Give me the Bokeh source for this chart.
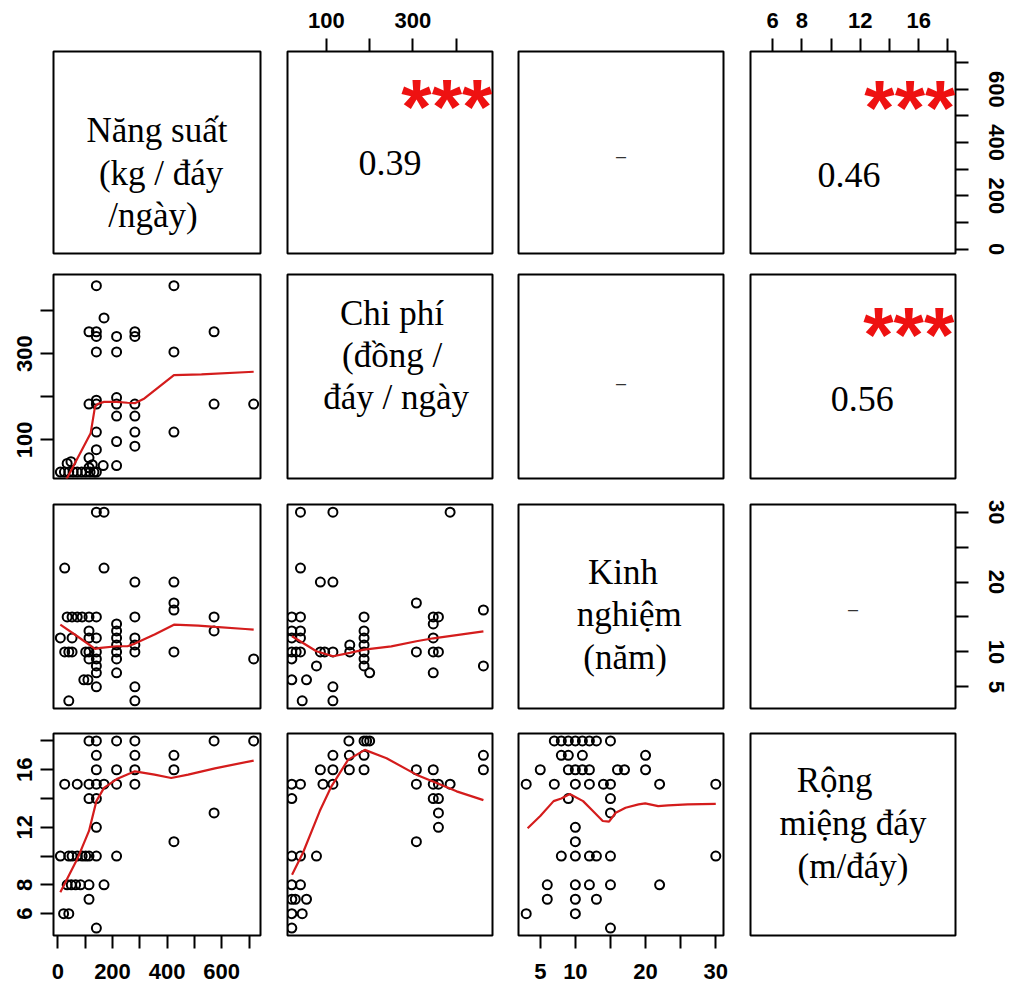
from bokeh.plotting import figure
from bokeh.layouts import column, row
from bokeh.models import FixedTicker, LinearAxis, Range1d
from bokeh.core.properties import value
from bokeh.embed import file_html
from bokeh.resources import INLINE

# ---------------- data ----------------
VARS = ["ns", "cp", "kn", "rm"]
LABELS = {
    "ns": ["Năng suất", "(kg / đáy", "/ngày)"],
    "cp": ["Chi phí", "(đồng /", "đáy / ngày"],
    "kn": ["Kinh", "nghiệm", "(năm)"],
    "rm": ["Rộng", "miệng đáy", "(m/đáy)"],
}
RANGES = {"ns": (-16, 742), "cp": (10, 484), "kn": (1.9, 31.1), "rm": (4.48, 18.52)}
TICKS = {"ns": [0, 100, 200, 300, 400, 500, 600, 700],
         "cp": [100, 200, 300, 400],
         "kn": [5, 10, 15, 20, 25, 30],
         "rm": [6, 8, 10, 12, 14, 16, 18]}
TICK_LABELS = {"ns": [0, 200, 400, 600], "cp": [100, 300], "kn": [5, 10, 20, 30], "rm": [6, 8, 12, 16]}

# Chi phí (y) vs Năng suất (x)
ns_cp_x = [141, 425, 169, 114, 141, 141, 215, 282, 282, 572, 141, 215, 425, 114, 141, 141, 215, 215, 282,
           572, 717, 215, 282, 141, 282, 425, 215, 282, 141, 114, 166, 215, 9, 24, 40, 56, 71, 87, 102,
           118, 132, 141, 34, 48, 114, 126]
ns_cp_y = [458, 458, 383, 351, 351, 340, 340, 351, 340, 351, 304, 304, 304, 183, 192, 183, 198, 183, 183,
           183, 183, 155, 155, 118, 118, 118, 96, 85, 77, 58, 40, 40, 25, 25, 25, 25, 25, 25, 25,
           25, 25, 25, 45, 49, 35, 42]
ns_cp_fit_x = [28, 120, 136, 145, 169, 215, 255, 282, 317, 425, 526, 717]
ns_cp_fit_y = [4, 115, 177, 183, 188, 188, 186, 185, 196, 250, 252, 258]

# Kinh nghiệm (y) vs Năng suất (x)
ns_kn_x = [141, 169, 25, 169, 282, 425, 425, 425, 572, 282, 34, 52, 71, 89, 114, 141, 215, 215, 215, 215,
           215, 215, 215, 572, 114, 9, 52, 114, 141, 282, 282, 282, 425, 25, 40, 52, 102, 114, 141,
           114, 141, 717, 141, 141, 95, 110, 141, 282, 40, 282]
ns_kn_y = [30, 30, 22, 22, 20, 20, 17, 16, 15, 15, 15, 15, 15, 15, 15, 15, 14, 13, 12, 11,
           10, 9, 7, 13, 13, 12, 12, 12, 12, 12, 11, 10, 10, 10, 10, 10, 10, 10, 10,
           9, 9, 9, 8, 7, 6, 6, 5, 5, 3, 3]
ns_kn_fit_x = [9, 71, 136, 157, 215, 255, 282, 354, 425, 514, 576, 686, 717]
ns_kn_fit_y = [13.9, 12.24, 10.43, 10.57, 10.81, 10.81, 11.19, 12.48, 13.9, 13.76, 13.57, 13.28, 13.19]

# Kinh nghiệm (y) vs Chi phí (x)
cp_kn_x = [40, 115, 386, 40, 86, 115, 308, 463, 20, 40, 187, 347, 359, 347, 20, 40, 187, 20, 40, 187, 347,
           154, 187, 20, 30, 40, 86, 96, 115, 154, 187, 308, 347, 359, 20, 187, 77, 187, 463, 200, 347,
           20, 54, 115, 44, 115]
cp_kn_y = [30, 30, 30, 22, 20, 20, 17, 16, 15, 15, 15, 15, 15, 14, 13, 13, 13, 12, 12, 12, 12,
           11, 11, 10, 10, 10, 10, 10, 10, 10, 10, 10, 10, 10, 9, 9, 8, 8, 8, 7, 7,
           6, 6, 5, 3, 3]
cp_kn_fit_x = [20.5, 76.8, 115.4, 154, 187, 250, 308, 347, 463]
cp_kn_fit_y = [12.24, 10.1, 9.38, 9.86, 10.33, 10.8, 11.52, 11.95, 12.95]

# Rộng miệng đáy (y) vs Năng suất (x)
ns_rm_x = [114, 141, 215, 282, 572, 717, 141, 282, 425, 141, 215, 282, 425, 25, 71, 114, 141, 169, 215, 282,
           114, 141, 141, 572, 425, 9, 40, 52, 71, 89, 102, 114, 141, 215, 34, 49, 65, 83, 114, 169,
           114, 21, 40, 141]
ns_rm_y = [18, 18, 18, 18, 18, 18, 17, 17, 17, 16, 16, 16, 16, 15, 15, 15, 15, 15, 15, 15,
           14, 14, 12, 13, 11, 10, 10, 10, 10, 10, 10, 10, 10, 10, 8, 8, 8, 8, 8, 8,
           7, 6, 6, 5]
ns_rm_fit_x = [9, 71, 114, 141, 169, 218, 282, 354, 415, 477, 575, 717]
ns_rm_fit_y = [7.49, 9.79, 11.75, 13.82, 14.74, 15.38, 15.89, 15.66, 15.43, 15.66, 16.1, 16.64]

# Rộng miệng đáy (y) vs Chi phí (x)
cp_rm_x = [152, 187, 193, 200, 115, 153, 187, 463, 86, 115, 153, 187, 308, 347, 463, 20, 40, 92, 115, 308,
           347, 359, 386, 20, 347, 359, 359, 359, 308, 20, 40, 77, 20, 40, 20, 28, 54, 20, 44, 20]
cp_rm_y = [18, 18, 18, 18, 17, 17, 17, 17, 16, 16, 16, 16, 16, 16, 16, 15, 15, 15, 15, 15,
           15, 15, 15, 14, 14, 14, 13, 12, 11, 10, 10, 10, 8, 8, 7, 7, 7, 6, 6, 5]
cp_rm_fit_x = [20.5, 46, 84.6, 111.6, 150, 188.8, 239, 308, 354.8, 401, 463]
cp_rm_fit_y = [8.71, 10.25, 13.13, 14.85, 16.69, 17.38, 16.8, 15.66, 15.08, 14.5, 13.89]

# Rộng miệng đáy (y) vs Kinh nghiệm (x)
kn_rm_x = [7, 8, 9, 10, 11, 12, 13, 15, 8, 9, 11, 20, 5, 9, 10, 11, 12, 16, 17, 20,
           3, 7, 10, 12, 14, 15, 22, 30, 9, 15, 15, 10, 10, 8, 10, 12, 13, 15, 30,
           6, 10, 12, 15, 22, 6, 10, 13, 3, 10, 15]
kn_rm_y = [18, 18, 18, 18, 18, 18, 18, 18, 17, 17, 17, 17, 16, 16, 16, 16, 16, 16, 16, 16,
           15, 15, 15, 15, 15, 15, 15, 15, 14, 14, 13, 12, 11, 10, 10, 10, 10, 10, 10,
           8, 8, 8, 8, 8, 7, 7, 7, 6, 6, 5]
kn_rm_fit_x = [3.2, 5, 6.9, 8.0, 9.2, 11.1, 12.5, 13.9, 14.8, 15.75, 17.15, 19.0, 19.95, 21.8, 23.2, 26.0, 30]
kn_rm_fit_y = [11.93, 12.78, 13.82, 14.0, 14.32, 13.82, 13.13, 12.44, 12.39, 13.01, 13.36, 13.59, 13.66,
               13.47, 13.52, 13.59, 13.63]

SCATTER = {
    (1, 0): (ns_cp_x, ns_cp_y, ns_cp_fit_x, ns_cp_fit_y),
    (2, 0): (ns_kn_x, ns_kn_y, ns_kn_fit_x, ns_kn_fit_y),
    (2, 1): (cp_kn_x, cp_kn_y, cp_kn_fit_x, cp_kn_fit_y),
    (3, 0): (ns_rm_x, ns_rm_y, ns_rm_fit_x, ns_rm_fit_y),
    (3, 1): (cp_rm_x, cp_rm_y, cp_rm_fit_x, cp_rm_fit_y),
    (3, 2): (kn_rm_x, kn_rm_y, kn_rm_fit_x, kn_rm_fit_y),
}
# upper panels: correlation text, stars
CORR = {(0, 1): "0.39", (0, 3): "0.46", (1, 3): "0.56"}
STARS = {(0, 1): "***", (0, 3): "***", (1, 3): "***"}
DASHES = [(0, 2), (1, 2), (2, 3)]

# ---------------- layout / style ----------------
COL_GEOM = [(53, 207, 13), (14, 205, 13), (13, 205, 13), (14, 205, 58)]
ROW_GEOM = [(51, 202, 10), (11, 204, 13), (13, 204, 12), (13, 202, 54)]
AXES = {(0, 1): [("above", "cp")], (0, 3): [("above", "rm"), ("right", "ns")],
        (1, 0): [("left", "cp")], (2, 3): [("right", "kn")],
        (3, 0): [("left", "rm"), ("below", "ns")], (3, 2): [("below", "kn")]}
STANDOFF = {"above": 11, "below": 15, "left": 8, "right": 20}
CORR_POS = {(0, 1): (0.50, 0.45), (0, 3): (0.48, 0.39), (1, 3): (0.545, 0.39)}
STAR_POS = {(0, 1): (0.555, 0.725), (0, 3): (0.555, 0.72), (1, 3): (0.55, 0.705)}
DASH_POS = {(0, 2): (0.5, 0.485), (1, 2): (0.5, 0.466), (2, 3): (0.5, 0.49)}
LABEL_POS = {
    "ns": [(0.5, 0.61), (0.52, 0.395), (0.48, 0.19)],
    "cp": [(0.51, 0.81), (0.51, 0.605), (0.53, 0.395)],
    "kn": [(0.51, 0.667), (0.54, 0.461), (0.52, 0.25)],
    "rm": [(0.41, 0.767), (0.50, 0.554), (0.50, 0.342)],
}


def fpos(var, f):
    lo, hi = RANGES[var]
    return lo + f * (hi - lo)


def make_axis(var, side):
    ax = LinearAxis(ticker=FixedTicker(ticks=TICKS[var]),
                    major_label_overrides={t: (str(t) if t in TICK_LABELS[var] else "") for t in TICKS[var]})
    ax.axis_line_color = None
    ax.major_tick_out = 13
    ax.major_tick_in = 0
    ax.major_tick_line_width = 2
    ax.major_tick_line_color = "black"
    ax.minor_tick_line_color = None
    ax.major_label_text_font = "Liberation Sans"
    ax.major_label_text_font_size = "22px"
    ax.major_label_text_font_style = "bold"
    ax.major_label_text_color = "black"
    ax.major_label_standoff = STANDOFF[side]
    if side in ("left", "right"):
        ax.major_label_orientation = "vertical"
    return ax


rows = []
for i, rv in enumerate(VARS):
    figs = []
    for j, cv in enumerate(VARS):
        bl, fw, br = COL_GEOM[j]
        bt, fh, bb = ROW_GEOM[i]
        p = figure(frame_width=fw, frame_height=fh,
                   x_range=Range1d(*RANGES[cv]), y_range=Range1d(*RANGES[rv]),
                   x_axis_location=None, y_axis_location=None,
                   toolbar_location=None, output_backend="svg",
                   min_border_left=bl, min_border_right=br,
                   min_border_top=bt, min_border_bottom=bb)
        p.xgrid.visible = False
        p.ygrid.visible = False
        p.outline_line_color = "black"
        p.outline_line_width = 2
        p.outline_line_alpha = 1.0
        p.background_fill_color = "white"
        p.border_fill_color = "white"
        for side, var in AXES.get((i, j), []):
            p.add_layout(make_axis(var, side), side)

        if i == j:
            lines = LABELS[rv]
            xs = [fpos(cv, LABEL_POS[rv][k][0]) for k in range(3)]
            ys = [fpos(rv, LABEL_POS[rv][k][1]) for k in range(3)]
            p.text(x=xs, y=ys, text=lines, text_font=value("Liberation Serif"),
                   text_font_size="35px", text_align="center", text_baseline="middle",
                   text_color="black")
        elif (i, j) in SCATTER:
            x, y, fx, fy = SCATTER[(i, j)]
            p.scatter(x=x, y=y, marker="circle", size=9, fill_color=None,
                      line_color="black", line_width=2)
            p.line(x=fx, y=fy, line_color="#d41c1c", line_width=2.2)
        if (i, j) in CORR:
            cx, cy = CORR_POS[(i, j)]
            p.text(x=[fpos(cv, cx)], y=[fpos(rv, cy)], text=[CORR[(i, j)]],
                   text_font=value("Liberation Serif"), text_font_size="36px",
                   text_align="center", text_baseline="middle", text_color="black")
        if (i, j) in STARS:
            sx, sy = STAR_POS[(i, j)]
            p.text(x=[fpos(cv, sx)], y=[fpos(rv, sy)], text=[STARS[(i, j)]],
                   text_font=value("Liberation Sans"), text_font_size="78px",
                   text_font_style="bold", text_align="left", text_baseline="middle",
                   text_color="#ee1111")
        if (i, j) in DASH_POS:
            dx, dy = DASH_POS[(i, j)]
            p.text(x=[fpos(cv, dx)], y=[fpos(rv, dy)], text=["–"],
                   text_font=value("Liberation Sans"), text_font_size="18px",
                   text_align="center", text_baseline="middle", text_color="#333333")
        figs.append(p)
    rows.append(row(*figs, spacing=0))

layout = column(*rows, spacing=0)
open("out.html", "w").write(file_html(layout, INLINE))
